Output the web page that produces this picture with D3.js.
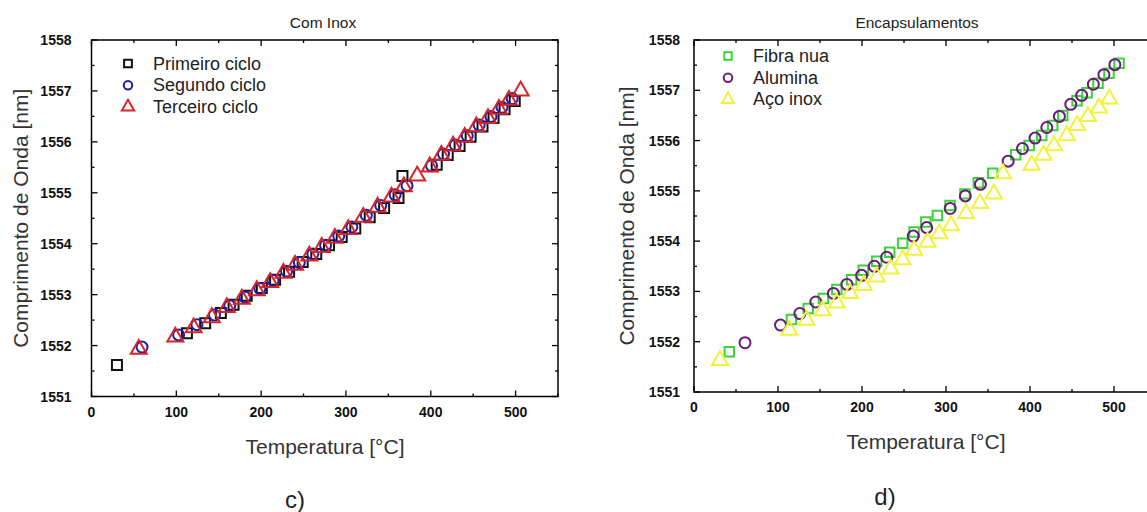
<!DOCTYPE html>
<html>
<head>
<meta charset="utf-8">
<script src="https://cdn.jsdelivr.net/npm/d3@7"></script>
<style>
  body { margin: 0; background: #fff; }
  svg { display: block; font-family: "Liberation Sans", Arial, sans-serif; }
</style>
</head>
<body>
<svg id="chart" width="1147" height="512"></svg>
<script>
// ---- panel c) Com Inox ----
var primeiroX = [30, 112.5, 134, 152.5, 167.5, 183, 200.8, 216.5, 233, 249, 265, 280, 295, 311, 328, 345, 362, 366.6, 407, 420, 434, 447, 461, 474, 487, 499];
var primeiroY = [1551.62, 1552.24, 1552.44, 1552.64, 1552.8, 1552.98, 1553.13, 1553.29, 1553.45, 1553.64, 1553.8, 1553.97, 1554.13, 1554.3, 1554.52, 1554.7, 1554.9, 1555.33, 1555.55, 1555.74, 1555.92, 1556.1, 1556.3, 1556.47, 1556.64, 1556.8];

var segundoX = [59.6, 102.7, 124.3, 145, 163, 181, 198.5, 214, 230, 245, 261, 276, 291.5, 307, 324, 341, 358, 372, 401, 415, 429, 443, 457, 471, 484, 496];
var segundoY = [1551.97, 1552.21, 1552.41, 1552.6, 1552.78, 1552.95, 1553.12, 1553.28, 1553.46, 1553.63, 1553.8, 1553.97, 1554.15, 1554.33, 1554.56, 1554.75, 1554.96, 1555.14, 1555.53, 1555.76, 1555.94, 1556.12, 1556.33, 1556.5, 1556.68, 1556.85];

var terceiroX = [55.7, 98.8, 120.4, 141.9, 159.6, 177.3, 194.9, 210.6, 226.3, 240, 256.8, 271.4, 287, 302.7, 320.4, 337.3, 353.7, 368.2, 384, 398.8, 412.5, 426.3, 440, 453.7, 467.5, 480.4, 492.2, 506];
var terceiroY = [1551.93, 1552.17, 1552.35, 1552.55, 1552.75, 1552.91, 1553.08, 1553.24, 1553.42, 1553.58, 1553.76, 1553.93, 1554.11, 1554.28, 1554.52, 1554.72, 1554.92, 1555.12, 1555.33, 1555.51, 1555.74, 1555.92, 1556.09, 1556.3, 1556.46, 1556.64, 1556.82, 1557.0];

// ---- panel d) Encapsulamentos ----
var fibraX = [42, 116, 136, 154, 170, 187.7, 201.6, 217.5, 233, 248.4, 262, 276, 289.7, 304.8, 322.6, 338.5, 355.6, 383, 399, 414, 427, 439, 456, 468, 481, 494, 506];
var fibraY = [1551.8, 1552.44, 1552.66, 1552.86, 1553.04, 1553.23, 1553.42, 1553.6, 1553.78, 1553.96, 1554.18, 1554.38, 1554.51, 1554.71, 1554.94, 1555.16, 1555.35, 1555.72, 1555.9, 1556.1, 1556.3, 1556.5, 1556.79, 1556.95, 1557.14, 1557.34, 1557.54];

var aluminaX = [60.7, 103, 126, 145, 166, 182, 199.6, 214.7, 229.4, 261, 277, 305, 323, 341, 374, 391, 406, 420, 435, 448.5, 461.5, 475.4, 488, 501];
var aluminaY = [1551.98, 1552.33, 1552.56, 1552.79, 1552.96, 1553.14, 1553.32, 1553.5, 1553.68, 1554.1, 1554.27, 1554.65, 1554.9, 1555.13, 1555.59, 1555.84, 1556.05, 1556.26, 1556.48, 1556.72, 1556.9, 1557.12, 1557.31, 1557.51];

var acoX = [31, 113.5, 134, 153, 170, 186, 202, 217.5, 234, 248.4, 262, 278, 292, 306, 324, 340.5, 357, 368, 402, 416, 428.6, 443.7, 456, 469, 482, 494.4];
var acoY = [1551.63, 1552.23, 1552.43, 1552.62, 1552.77, 1552.96, 1553.12, 1553.29, 1553.45, 1553.63, 1553.82, 1553.98, 1554.15, 1554.31, 1554.55, 1554.75, 1554.94, 1555.34, 1555.51, 1555.71, 1555.9, 1556.1, 1556.3, 1556.48, 1556.65, 1556.83];

var xDomain = [0, 550];
var yDomain = [1551, 1558];
var xTicks = [0, 100, 200, 300, 400, 500];
var yTicks = [1551, 1552, 1553, 1554, 1555, 1556, 1557, 1558];

var svg = d3.select("#chart");

function zip(xs, ys) {
    return xs.map(function (x, i) { return [x, ys[i]]; });
}

function drawPanel(p) {
    var x = d3.scaleLinear().domain(xDomain).range([p.left, p.right]);
    var y = d3.scaleLinear().domain(yDomain).range([p.bottom, p.top]);
    var g = svg.append("g");

    // inward ticks on all four sides (major every 100 / 1 nm, minor halfway)
    var major = 6, minor = 3;
    var xt = d3.range(0, 551, 50);
    var yt = d3.range(1551, 1558.01, 0.5);
    xt.forEach(function (v) {
        var len = v % 100 === 0 ? major : minor;
        g.append("line").attr("x1", x(v)).attr("x2", x(v)).attr("y1", p.bottom).attr("y2", p.bottom - len).attr("stroke", "#000").attr("stroke-width", 1.3);
        g.append("line").attr("x1", x(v)).attr("x2", x(v)).attr("y1", p.top).attr("y2", p.top + len).attr("stroke", "#000").attr("stroke-width", 1.3);
    });
    yt.forEach(function (v) {
        var len = Math.abs(v - Math.round(v)) < 0.01 ? major : minor;
        g.append("line").attr("x1", p.left).attr("x2", p.left + len).attr("y1", y(v)).attr("y2", y(v)).attr("stroke", "#000").attr("stroke-width", 1.3);
        g.append("line").attr("x1", p.right).attr("x2", p.right - len).attr("y1", y(v)).attr("y2", y(v)).attr("stroke", "#000").attr("stroke-width", 1.3);
    });

    g.append("rect")
        .attr("x", p.left).attr("y", p.top)
        .attr("width", p.right - p.left).attr("height", p.bottom - p.top)
        .attr("fill", "none").attr("stroke", "#000").attr("stroke-width", 1.5);

    // tick labels
    g.selectAll(".xl").data(xTicks).enter().append("text")
        .attr("x", function (d) { return x(d); })
        .attr("y", p.bottom + 20)
        .attr("text-anchor", "middle")
        .attr("font-size", 14).attr("font-weight", "bold").attr("fill", "#111")
        .text(function (d) { return d; });
    g.selectAll(".yl").data(yTicks).enter().append("text")
        .attr("x", p.left - p.ylabGap)
        .attr("y", function (d) { return y(d) + 5; })
        .attr("text-anchor", "end")
        .attr("font-size", 14).attr("font-weight", "bold").attr("fill", "#111")
        .text(function (d) { return d; });

    // titles
    g.append("text").attr("x", p.titleX).attr("y", 28).attr("text-anchor", "middle")
        .attr("font-size", 15.5).attr("fill", "#222").text(p.title);
    g.append("text").attr("x", p.xTitleX).attr("y", p.bottom + 57).attr("text-anchor", "middle")
        .attr("font-size", 21).attr("fill", "#333").text("Temperatura [°C]");
    g.append("text")
        .attr("transform", "translate(" + p.yTitleX + "," + ((p.top + p.bottom) / 2) + ") rotate(-90)")
        .attr("text-anchor", "middle")
        .attr("font-size", 21).attr("fill", "#333").text("Comprimento de Onda [nm]");
    g.append("text").attr("x", p.capX).attr("y", p.capY).attr("text-anchor", "middle")
        .attr("font-size", 24).attr("fill", "#222").text(p.caption);

    // series
    p.series.forEach(function (s) {
        g.append("g").selectAll("path").data(zip(s.xs, s.ys)).enter().append("path")
            .attr("transform", function (d) { return "translate(" + x(d[0]) + "," + y(d[1]) + ")"; })
            .attr("d", d3.symbol().type(s.type).size(s.size))
            .attr("fill", "none").attr("stroke", s.color).attr("stroke-width", 2);
    });

    // legend
    p.series.forEach(function (s, i) {
        var ly = p.legY + i * 21.7;
        g.append("path")
            .attr("transform", "translate(" + p.legX + "," + ly + ")")
            .attr("d", d3.symbol().type(s.type).size(s.size * 0.6))
            .attr("fill", "none").attr("stroke", s.color).attr("stroke-width", 2);
        g.append("text").attr("x", p.legX + 25).attr("y", ly + 6)
            .attr("font-size", 18).attr("fill", "#222").text(s.name);
    });
}

drawPanel({
    left: 91.5, right: 558, top: 40, bottom: 396.5,
    ylabGap: 20, yTitleX: 28, titleX: 323, xTitleX: 325, title: "Com Inox",
    capX: 295, capY: 508, caption: "c)",
    legX: 128, legY: 63.5,
    series: [
        { name: "Primeiro ciclo", xs: primeiroX, ys: primeiroY, type: d3.symbolSquare, size: 100, color: "#111" },
        { name: "Segundo ciclo", xs: segundoX, ys: segundoY, type: d3.symbolCircle, size: 95, color: "#1c1cb0" },
        { name: "Terceiro ciclo", xs: terceiroX, ys: terceiroY, type: d3.symbolTriangle, size: 110, color: "#d82424" }
    ]
});

drawPanel({
    left: 694, right: 1156, top: 40, bottom: 392,
    ylabGap: 14, yTitleX: 634, titleX: 917, xTitleX: 926, title: "Encapsulamentos",
    capX: 885, capY: 505, caption: "d)",
    legX: 728, legY: 56,
    series: [
        { name: "Fibra nua", xs: fibraX, ys: fibraY, type: d3.symbolSquare, size: 90, color: "#3ad43a" },
        { name: "Alumina", xs: aluminaX, ys: aluminaY, type: d3.symbolCircle, size: 95, color: "#6b1a78" },
        { name: "Aço inox", xs: acoX, ys: acoY, type: d3.symbolTriangle, size: 110, color: "#f2f23a" }
    ]
});
</script>
</body>
</html>
